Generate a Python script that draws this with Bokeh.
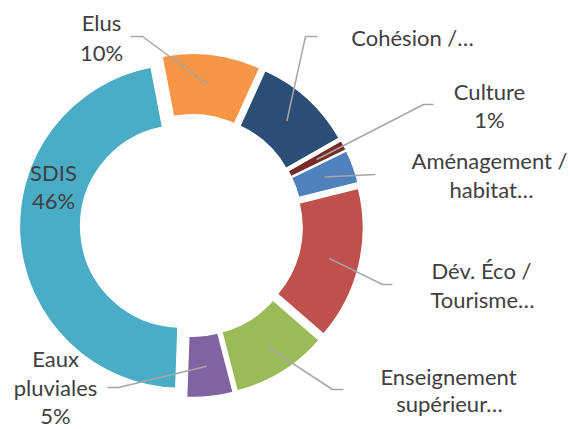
import numpy as np
from bokeh.plotting import figure
from bokeh.models import Range1d, ColumnDataSource
from bokeh.embed import file_html
from bokeh.resources import INLINE
from bokeh.core.properties import value

# ---------------- data ----------------
categories = ["Aménagement / habitat", "Dév. Éco / Tourisme", "Enseignement supérieur",
              "Eaux pluviales", "SDIS", "Elus", "Cohésion", "Culture"]
shares = [3.3, 15.3, 9.6, 4.6, 46.4, 9.8, 10.0, 1.0]
colors = ["#4F81BD", "#C0504D", "#9BBB59", "#8064A2", "#4BACC6", "#F79646", "#2C4D75", "#772C2A"]
# displayed (truncated) label texts; "{pct}" is replaced by the computed percentage
label_texts = [["Aménagement /", "habitat…"],
               ["Dév. Éco /", "Tourisme…"],
               ["Enseignement", "supérieur…"],
               ["Eaux", "pluviales", "{pct}"],
               ["SDIS", "{pct}"],
               ["Elus", "{pct}"],
               ["Cohésion /…"],
               ["Culture", "{pct}"]]

# ---------------- layout (picture pixels) ----------------
W, H = 570, 429
CX, CY = 191, 225
R_OUT, R_IN = 162, 101
EXPLODE = 10
START_DEG = 64.0          # clockwise from 12 o'clock
FONT = "Lato"
FONT_SIZE = "22px"
TEXT_COLOR = "#404040"
LEADER_COLOR = "#A6A6A6"
TEXT_DY = 8               # renderer places glyph baseline ~8px below the anchor
# per-line label placement: (x, visual baseline y, align)
label_lines_pos = [
    [(489, 168, "center"), (491, 197, "center")],
    [(481, 278, "center"), (482, 307, "center")],
    [(448, 384, "center"), (449, 411, "center")],
    [(55, 366, "center"), (55, 395, "center"), (55, 423, "center")],
    [(53, 180, "center"), (53, 208, "center")],
    [(101, 30, "center"), (101, 60, "center")],
    [(412, 45, "center")],
    [(489, 99, "center"), (489, 127, "center")],
]
# leader line label-side points (start, elbow) or None
leader_start = [[(375, 174)],
                [(392, 284), (382, 284)],
                [(343, 389), (332, 389)],
                [(107, 387), (118, 387)],
                None,
                [(130, 36), (142, 36)],
                [(317, 36), (305, 36)],
                [(433, 104), (423, 104)]]

p = figure(title=None, frame_width=W, frame_height=H,
           x_range=Range1d(0, W), y_range=Range1d(-H, 0),
           output_backend="svg", toolbar_location=None,
           x_axis_location=None, y_axis_location=None, min_border=0,
           outline_line_color=None, background_fill_color="white", border_fill_color="white")
p.grid.visible = False

vals = np.array(shares, dtype=float)
total = vals.sum()
ang = vals / total * 360.0
theta_start = START_DEG + np.concatenate([[0.0], np.cumsum(ang)[:-1]])
theta_end = theta_start + ang
theta_mid = (theta_start + theta_end) / 2.0
rad_mid = np.deg2rad(theta_mid)

xs = CX + EXPLODE * np.sin(rad_mid)
ys = -(CY) + EXPLODE * np.cos(rad_mid)

src = ColumnDataSource(dict(
    x=xs, y=ys,
    start=np.deg2rad(90.0 - theta_end),
    end=np.deg2rad(90.0 - theta_start),
    color=colors,
))
p.annular_wedge(x="x", y="y", inner_radius=R_IN, outer_radius=R_OUT,
                start_angle="start", end_angle="end", direction="anticlock",
                fill_color="color", line_color="white", line_width=1.2, source=src)

# leader lines: from label side to mid-radius at mid-angle of each slice
r_mid = (R_IN + R_OUT) / 2.0
for i in range(len(categories)):
    if leader_start[i] is None:
        continue
    ex = xs[i] + r_mid * np.sin(rad_mid[i])
    ey = ys[i] + r_mid * np.cos(rad_mid[i])
    lx = [pt[0] for pt in leader_start[i]] + [ex]
    ly = [-pt[1] for pt in leader_start[i]] + [ey]
    p.line(lx, ly, line_color=LEADER_COLOR, line_width=1.5)

# labels
tx, ty, tt = [], [], []
for i in range(len(categories)):
    pct = f"{int(round(vals[i] / total * 100))}%"
    for line, (lx, by, al) in zip(label_texts[i], label_lines_pos[i]):
        tx.append(lx)
        ty.append(-(by - TEXT_DY))
        tt.append(line.replace("{pct}", pct))
p.text(x=tx, y=ty, text=tt, text_font=value(FONT), text_font_size=FONT_SIZE,
       text_color=TEXT_COLOR, text_align="center", text_baseline="alphabetic")

open("out.html", "w").write(file_html(p, INLINE))
